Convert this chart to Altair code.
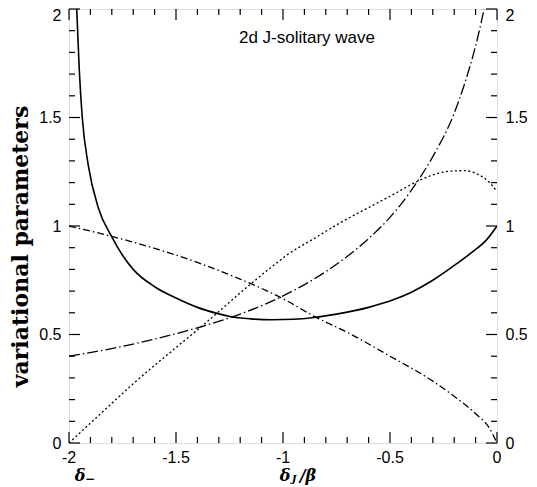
import altair as alt
import pandas as pd

# ---------------- data ----------------
solid_x = [-1.964, -1.952, -1.938, -1.91, -1.862, -1.8, -1.75, -1.70, -1.6, -1.5,
           -1.4, -1.3, -1.248, -1.15, -1.052, -0.95, -0.857, -0.75, -0.6,
           -0.482, -0.4, -0.3, -0.19, -0.109, -0.05, 0.0]
solid_y = [2.0, 1.72, 1.5, 1.28, 1.081, 0.95, 0.865, 0.80, 0.72, 0.668,
           0.625, 0.595, 0.583, 0.572, 0.568, 0.57, 0.578, 0.594, 0.625,
           0.661, 0.695, 0.75, 0.825, 0.885, 0.935, 1.0]

dec_x = [-2.0, -1.8, -1.6, -1.4, -1.2, -1.0, -0.857, -0.7, -0.5, -0.3, -0.2, -0.1, -0.04, 0.0]
dec_y = [1.0, 0.952, 0.897, 0.832, 0.755, 0.665, 0.585, 0.51, 0.40, 0.285, 0.215, 0.135, 0.075, 0.0]

inc_x = [-2.0, -1.8, -1.6, -1.4, -1.2, -1.0, -0.8, -0.6, -0.5, -0.4, -0.3, -0.2,
         -0.15, -0.1, -0.06]
inc_y = [0.40, 0.435, 0.479, 0.531, 0.594, 0.678, 0.79, 0.942, 1.04, 1.165, 1.32, 1.52,
         1.66, 1.83, 2.0]

dot_x = [-2.0, -1.85, -1.70, -1.5, -1.377, -1.166, -1.036, -0.983, -0.85, -0.736, -0.6,
         -0.489, -0.374, -0.3, -0.226, -0.15, -0.094, -0.04, 0.0]
dot_y = [0.0, 0.137, 0.273, 0.44, 0.54, 0.72, 0.825, 0.865, 0.945, 1.013, 1.085,
         1.143, 1.205, 1.235, 1.252, 1.255, 1.24, 1.205, 1.159]

x_major = [-2, -1.5, -1, -0.5, 0]
x_labels = ["-2", "-1.5", "-1", "-0.5", "0"]
y_major = [0, 0.5, 1, 1.5, 2]
x_minor = [-1.9, -1.8, -1.7, -1.6, -1.4, -1.3, -1.2, -1.1, -0.9, -0.8, -0.7, -0.6,
           -0.4, -0.3, -0.2, -0.1]
y_minor = [0.1, 0.2, 0.3, 0.4, 0.6, 0.7, 0.8, 0.9, 1.1, 1.2, 1.3, 1.4,
           1.6, 1.7, 1.8, 1.9]

title_text = "2d J-solitary wave"
y_title = "variational parameters"

# ---------------- chart ----------------
W, H = 428, 434
MAJ, MIN = 11, 6
SANS = "Liberation Sans"
SERIF = "DejaVu Serif"

xs = alt.Scale(domain=[-2, 0], nice=False, zero=False)
ys = alt.Scale(domain=[0, 2], nice=False, zero=False)

top_shift = {"condition": {"test": "datum.value == 2", "value": 6}, "value": 0}

y_axis_left = alt.Axis(values=y_major, labelExpr="toString(datum.value)", ticks=False,
                       domain=False, grid=False, title=y_title, labelFont=SANS,
                       labelFontSize=16, labelColor="black", labelPadding=8,
                       labelOffset=top_shift,
                       titleFont=SERIF, titleFontWeight="bold", titleFontSize=22,
                       titleColor="black", titleAngle=270, titleX=-49, titleY=237,
                       titleAlign="center", titleBaseline="middle")
y_axis_right = alt.Axis(values=y_major, labelExpr="toString(datum.value)", ticks=False,
                        domain=False, grid=False, title="", orient="right",
                        labelFont=SANS, labelFontSize=16, labelColor="black",
                        labelPadding=8, labelOffset=top_shift)


def curve(xv, yv, dash, width, yaxis=None):
    df = pd.DataFrame({"x": xv, "y": yv})
    mk = dict(color="black", strokeWidth=width, interpolate="monotone", clip=True)
    if dash:
        mk["strokeDash"] = dash
    xe = alt.X("x:Q", scale=xs, axis=None)
    ye = alt.Y("y:Q", scale=ys, axis=yaxis) if yaxis is not None else alt.Y("y:Q", scale=ys, axis=None)
    return alt.Chart(df).mark_line(**mk).encode(x=xe, y=ye)


solid = curve(solid_x, solid_y, None, 1.6, yaxis=y_axis_left)
dec = curve(dec_x, dec_y, [7, 3, 1.5, 3], 1.3, yaxis=y_axis_right)
inc = curve(inc_x, inc_y, [11, 3, 1.5, 3], 1.3)
dot = curve(dot_x, dot_y, [2, 2.5], 1.3)

xt_major = pd.DataFrame({"t": x_major, "lab": x_labels})
xt_minor = pd.DataFrame({"t": x_minor})
yt_major = pd.DataFrame({"t": y_major})
yt_minor = pd.DataFrame({"t": y_minor})


def xticks(df, L):
    bot = alt.Chart(df).mark_rule(color="black", strokeWidth=1.2).encode(
        x=alt.X("t:Q", scale=xs, axis=None), y=alt.value(H), y2=alt.value(H - L))
    top = alt.Chart(df).mark_rule(color="black", strokeWidth=1.2).encode(
        x=alt.X("t:Q", scale=xs, axis=None), y=alt.value(0), y2=alt.value(L))
    return [bot, top]


def yticks(df, L):
    left = alt.Chart(df).mark_rule(color="black", strokeWidth=1.2).encode(
        y=alt.Y("t:Q", scale=ys, axis=None), x=alt.value(0), x2=alt.value(L))
    right = alt.Chart(df).mark_rule(color="black", strokeWidth=1.2).encode(
        y=alt.Y("t:Q", scale=ys, axis=None), x=alt.value(W - L), x2=alt.value(W))
    return [left, right]


ticks = xticks(xt_major, MAJ) + xticks(xt_minor, MIN) + yticks(yt_major, MAJ) + yticks(yt_minor, MIN)

# x tick labels (drawn through the x scale)
x_tick_labels = alt.Chart(xt_major).mark_text(
    font=SANS, fontSize=16, color="black", align="center", baseline="middle").encode(
    x=alt.X("t:Q", scale=xs, axis=None), y=alt.value(H + 15), text="lab:N")

label_df = pd.DataFrame({"label": [title_text]})
title_mark = alt.Chart(label_df).mark_text(font=SANS, fontSize=17, color="black",
                                           align="center", baseline="middle").encode(
    x=alt.XDatum(-0.888, type="quantitative", scale=xs, axis=None),
    y=alt.YDatum(1.866, type="quantitative", scale=ys, axis=None),
    text="label:N")

math_style = dict(font=SERIF, fontWeight="bold", fontStyle="italic", color="black",
                  align="center", baseline="middle")
YB = H + 33


def math_text(s, xval, size, dx, dy=0):
    return alt.Chart(pd.DataFrame({"s": [s]})).mark_text(
        fontSize=size, dx=dx, dy=dy, **math_style).encode(
        x=alt.XDatum(xval, type="quantitative", scale=xs, axis=None),
        y=alt.value(YB), text="s:N")


d_minus = math_text("δ", -2.0, 16, 11)
d_minus_sub = math_text("−", -2.0, 12, 21, 3)
dj = math_text("δ", -1.0, 16, 2)
dj_sub = math_text("J", -1.0, 10, 11, 3)
dj_rest = math_text("/β", -1.0, 16, 25)

chart = alt.layer(solid, dec, inc, dot, *ticks, x_tick_labels, title_mark, d_minus,
                  d_minus_sub, dj, dj_sub, dj_rest).resolve_axis(y="independent").properties(
    width=W, height=H,
    autosize=alt.AutoSizeParams(type="none"),
    padding={"left": 61, "top": 1, "right": 30, "bottom": 42},
).configure_view(stroke="black", strokeWidth=1.6).configure(background="white")

chart.save("out.html", embed_options={"renderer": "svg", "actions": False})
